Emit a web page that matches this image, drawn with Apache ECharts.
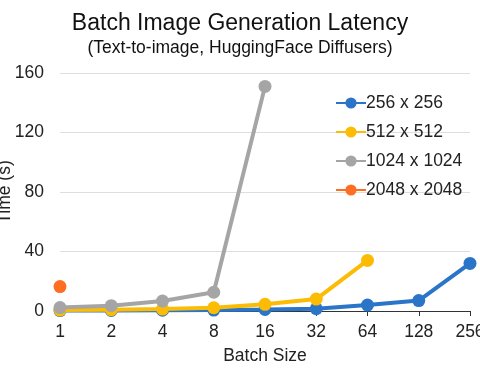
<!DOCTYPE html>
<html><head><meta charset="utf-8">
<script src="https://cdn.jsdelivr.net/npm/echarts@6/dist/echarts.min.js"></script>
<style>html,body{margin:0;padding:0;background:#fff}#c{width:480px;height:373px}</style>
</head><body><div id="c"></div>
<script>
var categories = ['1','2','4','8','16','32','64','128','256'];
var s256 = [0.3, 0.4, 0.5, 0.6, 1.0, 1.5, 4, 7, 32];
var s512 = [0.6, 0.9, 1.3, 2.2, 4.5, 8, 34, null, null];
var s1024 = [2.3, 3.6, 6.7, 12.6, 151, null, null, null, null];
var s2048 = [16.4, null, null, null, null, null, null, null, null];
var seriesNames = ['256 x 256', '512 x 512', '1024 x 1024', '2048 x 2048'];
var colors = ['#2b75c9', '#fcbc05', '#a5a5a5', '#ff6d22'];
var yTicks = {min: 0, max: 160, interval: 40};

var font = 'Liberation Sans, Arial, sans-serif';
var chart = echarts.init(document.getElementById('c'), null, {renderer: 'canvas'});
var data = [s256, s512, s1024, s2048];
chart.setOption({
  animation: false,
  color: colors,
  textStyle: {fontFamily: font},
  title: {
    text: 'Batch Image Generation Latency',
    subtext: '(Text-to-image, HuggingFace Diffusers)',
    left: 'center', top: 7, itemGap: 4,
    textStyle: {fontFamily: font, fontSize: 23, fontWeight: 'normal', color: '#111'},
    subtextStyle: {fontFamily: font, fontSize: 17.5, color: '#111'}
  },
  legend: {
    orient: 'vertical', left: 330, top: 89,
    itemWidth: 30, itemHeight: 14, itemGap: 11,
    textStyle: {fontFamily: font, fontSize: 17.5, color: '#222', padding: [0, 0, 0, -5]},
    data: seriesNames
  },
  grid: {left: 60, right: 10, top: 73, bottom: 62, containLabel: false, outerBoundsMode: 'none'},
  xAxis: {
    type: 'category', data: categories, boundaryGap: false,
    name: 'Batch Size', nameLocation: 'middle', nameGap: 36, nameMoveOverlap: false,
    nameTextStyle: {fontFamily: font, fontSize: 17.5, color: '#222'},
    axisLine: {lineStyle: {color: '#333', width: 1}},
    axisTick: {show: true, alignWithLabel: true, length: 5, lineStyle: {color: '#333'}},
    axisLabel: {fontFamily: font, fontSize: 17.5, color: '#222', margin: 12, showMaxLabel: true},
    splitLine: {show: false}
  },
  yAxis: {
    type: 'value', min: yTicks.min, max: yTicks.max, interval: yTicks.interval,
    name: 'Time (s)', nameLocation: 'middle', nameGap: 46, nameRotate: 90, nameMoveOverlap: false,
    nameTextStyle: {fontFamily: font, fontSize: 17.5, color: '#222'},
    axisLine: {show: false}, axisTick: {show: false},
    axisLabel: {fontFamily: font, fontSize: 17.5, color: '#222', margin: 16},
    splitLine: {lineStyle: {color: '#dedede', width: 1}}
  },
  series: seriesNames.map(function (n, i) {
    return {
      name: n, type: 'line', data: data[i], connectNulls: false,
      symbol: 'circle', symbolSize: 13, showSymbol: true,
      lineStyle: {width: 4, color: colors[i]},
      itemStyle: {color: colors[i]},
      z: 2 + i
    };
  })
});
</script></body></html>
